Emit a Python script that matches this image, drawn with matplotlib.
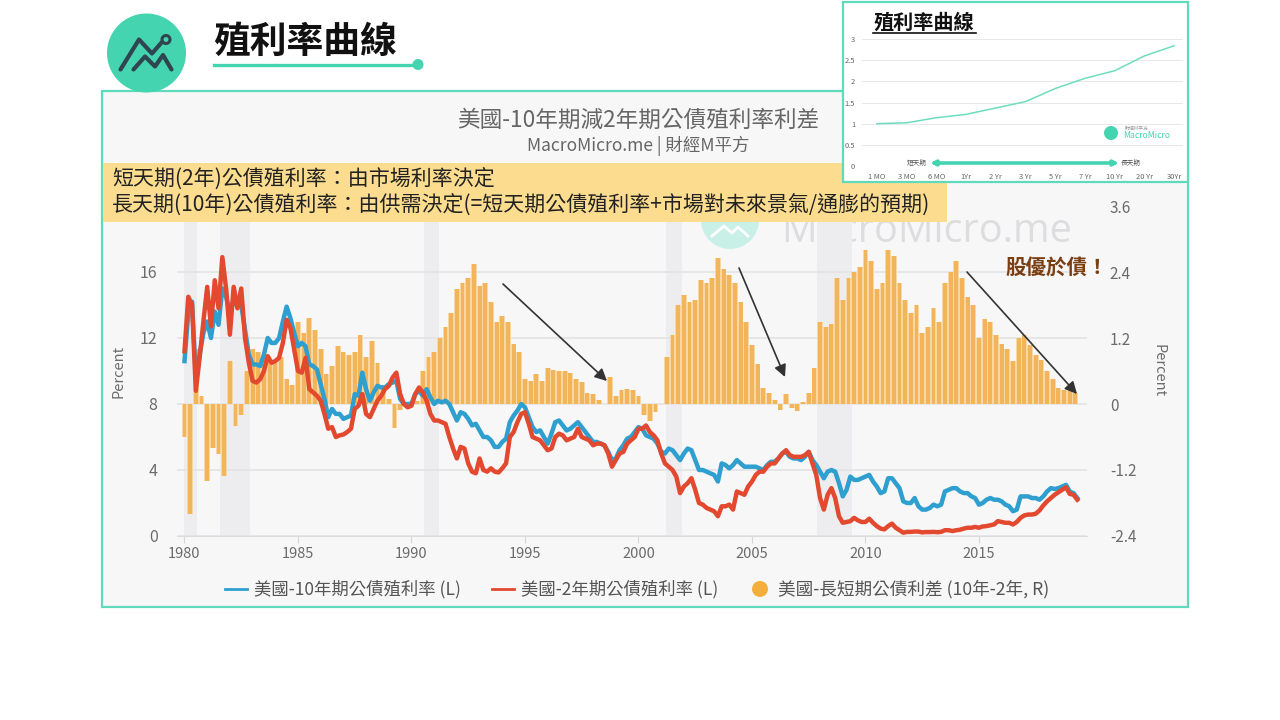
import numpy as np
import matplotlib
matplotlib.use('Agg')
import matplotlib.pyplot as plt
from matplotlib.patches import Rectangle, Circle, FancyArrowPatch

plt.rcParams['font.family'] = ['Noto Sans CJK TC', 'DejaVu Sans']

# two-monthly values from Jan 1980
y10 = [10.6,13.5,14.2,9.5,11.0,12.3,
 13.0,12.0,13.6,12.8,15.0,14.5,
 13.5,14.3,13.9,14.0,12.5,11.0,
 10.4,10.4,10.3,11.0,12.0,11.7,
 11.7,12.0,13.0,13.9,13.2,12.3,
 11.5,11.7,11.5,10.4,10.3,10.1,
 9.2,8.3,7.2,7.7,7.4,7.4,
 7.1,7.2,7.3,8.6,8.5,9.9,
 8.9,8.2,8.7,9.1,9.0,9.0,
 9.2,9.3,9.4,8.3,8.0,8.0,
 8.0,8.6,8.8,8.5,8.9,8.4,
 8.0,8.2,8.1,8.2,8.0,7.5,
 7.0,7.5,7.4,7.1,6.7,6.8,
 6.4,6.0,6.0,5.8,5.4,5.4,
 5.7,5.9,6.9,7.3,7.6,8.0,
 7.8,7.2,6.6,6.3,6.4,6.0,
 5.6,6.2,6.9,7.0,6.7,6.4,
 6.5,6.7,6.9,6.6,6.3,6.0,
 5.7,5.7,5.6,5.5,5.1,4.6,
 4.7,5.2,5.5,5.9,6.0,6.3,
 6.6,6.5,6.1,6.0,5.9,5.6,
 5.1,5.0,5.3,5.2,4.9,4.6,
 5.0,5.3,5.2,4.6,4.0,4.0,
 3.9,3.8,3.7,3.3,4.4,4.3,
 4.1,4.3,4.6,4.4,4.2,4.2,
 4.2,4.2,4.1,4.0,4.3,4.5,
 4.5,4.7,5.0,5.1,4.8,4.7,
 4.7,4.6,4.8,5.1,4.6,4.3,
 3.9,3.5,3.9,4.0,3.9,3.2,
 2.4,2.8,3.6,3.4,3.4,3.5,
 3.6,3.7,3.3,3.0,2.6,2.7,
 3.5,3.5,3.2,2.9,2.1,2.0,
 2.0,2.3,1.8,1.6,1.6,1.7,
 1.9,1.8,1.9,2.7,2.8,2.9,
 2.9,2.7,2.6,2.6,2.4,2.3,
 1.9,2.0,2.2,2.3,2.2,2.2,
 2.1,1.9,1.8,1.5,1.6,2.4,
 2.4,2.4,2.3,2.3,2.2,2.4,
 2.7,2.9,2.85,2.9,3.0,3.1,
 2.7,2.6,2.3]

y2 = [11.2,14.5,14.0,8.8,10.8,13.0,
 15.1,12.7,15.5,13.8,16.9,15.0,
 12.2,15.1,13.8,15.0,12.0,10.5,
 9.4,9.3,9.5,10.0,10.9,10.5,
 10.6,10.8,11.7,13.1,12.6,11.3,
 10.0,9.9,10.8,8.9,8.7,8.5,
 8.2,7.4,6.5,6.6,6.0,6.1,
 6.15,6.3,6.5,7.7,7.9,8.6,
 7.4,7.2,7.7,8.2,8.5,8.9,
 9.1,9.6,9.9,8.6,8.0,7.8,
 7.9,8.6,9.0,8.7,8.2,7.4,
 7.0,7.0,6.9,6.8,6.0,5.3,
 4.7,5.4,5.3,4.4,3.9,3.8,
 4.7,4.0,3.9,4.1,3.9,3.85,
 4.1,4.4,6.0,6.3,6.9,7.4,
 7.5,6.8,6.0,5.9,5.8,5.5,
 5.2,5.3,6.0,6.2,6.1,5.8,
 5.9,6.0,6.5,6.0,5.9,5.8,
 5.5,5.6,5.6,5.5,5.0,4.2,
 4.6,5.0,5.1,5.6,5.8,6.0,
 6.5,6.5,6.7,6.3,6.1,5.8,
 5.0,4.4,4.2,4.0,3.6,2.6,
 3.0,3.2,3.5,2.8,2.0,1.9,
 1.7,1.6,1.5,1.2,1.8,1.8,
 1.9,1.6,2.7,2.6,2.5,3.0,
 3.3,3.7,3.9,3.9,4.2,4.4,
 4.4,4.7,5.0,5.2,4.9,4.8,
 4.8,4.8,4.9,5.1,4.4,3.7,
 2.3,1.6,2.5,2.9,2.3,1.2,
 0.8,0.85,0.9,1.1,0.95,0.85,
 0.85,1.05,0.8,0.6,0.45,0.4,
 0.6,0.75,0.5,0.35,0.2,0.25,
 0.25,0.27,0.27,0.22,0.24,0.24,
 0.25,0.23,0.25,0.35,0.35,0.3,
 0.35,0.38,0.45,0.5,0.5,0.55,
 0.5,0.58,0.6,0.65,0.7,0.9,
 0.85,0.8,0.8,0.7,0.85,1.1,
 1.25,1.3,1.3,1.35,1.55,1.85,
 2.1,2.3,2.5,2.65,2.8,2.95,
 2.55,2.5,2.2]

# quarterly spread from 1980 Q1
spread = [-0.6,-2.0,1.0,0.15, -1.4,-0.8,-0.9,-1.3, 0.78,-0.4,-0.2,0.6,
 1.0,0.95,0.85,0.8, 0.75,0.85,0.45,0.35, 1.5,1.3,1.56,1.35,
 1.0,0.55,0.7,1.05, 0.95,0.9,0.95,1.25, 0.85,1.15,0.75,0.35,
 0.1,-0.44,-0.1,0.0, 0.05,0.05,0.6,0.85, 0.95,1.2,1.4,1.65,
 2.1,2.2,2.3,2.55, 2.15,2.2,1.85,1.5, 1.6,1.5,1.1,0.95,
 0.45,0.42,0.55,0.42, 0.65,0.62,0.6,0.6, 0.57,0.45,0.4,0.2,
 0.18,0.08,0.0,0.5, 0.15,0.26,0.28,0.25, 0.15,-0.2,-0.3,-0.15,
 0.0,0.85,1.25,1.8, 1.98,1.85,1.9,2.25, 2.2,2.3,2.65,2.45,
 2.35,2.2,1.85,1.5, 1.07,0.72,0.3,0.2, 0.08,-0.1,0.18,-0.08,
 -0.12,0.04,0.2,0.65, 1.5,1.4,1.45,2.3, 1.9,2.3,2.4,2.5,
 2.8,2.6,2.1,2.2, 2.8,2.7,2.2,1.9, 1.65,1.8,1.3,1.4,
 1.74,1.5,2.2,2.4, 2.6,2.3,1.95,1.8, 1.2,1.55,1.5,1.25,
 1.1,1.0,0.78,1.2, 1.25,1.08,0.9,0.8, 0.6,0.45,0.3,0.26,
 0.24,0.2]

recessions = [(1980.0,1980.55),(1981.55,1982.9),(1990.55,1991.2),(2001.2,2001.9),(2007.85,2009.4)]
left_ticks = [0,4,8,12,16]
right_ticks = [-2.4,-1.2,0,1.2,2.4,3.6]
year_ticks = [1980,1985,1990,1995,2000,2005,2010,2015]

maturities = ['1 MO','3 MO','6 MO','1Yr','2 Yr','3 Yr','5 Yr','7 Yr','10 Yr','20 Yr','30Yr']
curve = [1.0,1.02,1.14,1.22,1.37,1.52,1.83,2.07,2.25,2.6,2.84]

W,H = 1280.,720.
teal = '#45D4B0'
grey = '#6b6b6b'

def box(x0,y0,x1,y1):
    return [x0/W,1-y1/H,(x1-x0)/W,(y1-y0)/H]

def overlay(z):
    a = fig.add_axes([0,0,1,1],zorder=z)
    a.set_xlim(0,W); a.set_ylim(H,0); a.axis('off')
    a.patch.set_visible(False)
    return a

fig = plt.figure(figsize=(12.8,7.2),dpi=100,facecolor='white')

# background layer
bg = overlay(0)
bg.add_patch(Rectangle((102,91),1086,516,fc='#F7F7F8',ec='#5FDABA',lw=1.6))
bg.add_patch(Circle((730,220),29,fc='#C9F0E6',ec='none'))
bg.plot([712,724,732,738,748],[236,226,233,227,236],color='white',lw=2)
bg.text(927,232,'MacroMicro.me',fontsize=28.5,color='#DDDDDF',ha='center',va='center',family=['Open Sans','DejaVu Sans'])
bg.text(638,120,'美國-10年期減2年期公債殖利率利差',fontsize=16.3,color='#666666',ha='center',va='center')
bg.text(638,146,'MacroMicro.me | 財經M平方',fontsize=12.6,color='#666666',ha='center',va='center')

# main chart
ax2 = fig.add_axes(box(177,206,1087,536),zorder=1)
ax = ax2.twinx()
ax.set_zorder(2)
ax.patch.set_visible(False)
ax2.patch.set_visible(False)

xs = 1980+np.arange(len(spread))/4.
for a,b in recessions:
    ax2.axvspan(a,b,color='#EDEDEF',lw=0,zorder=0)
ax2.bar(xs,spread,width=0.25,color='#F8D7A2',zorder=2)
ax2.bar(xs,spread,width=0.17,color='#F2B55C',zorder=3)
ax2.set_ylim(-2.4,3.6)

t = 1980+np.arange(len(y10))/6.
ax.plot(t,y10,color='#2E9FCF',lw=3.2,solid_joinstyle='round')
ax.plot(t,y2,color='#E2492F',lw=3.2,solid_joinstyle='round')
ax.set_ylim(0,20)
ax.set_xlim(1979.67,2019.76)

# left ticks belong to the rate axis, right ones to the spread
ax2.set_yticks(right_ticks)
ax.set_yticks(left_ticks)
ax.yaxis.tick_left()
ax2.yaxis.tick_right()
for v in left_ticks:
    ax2.axhline((v-8)*0.3,color='#E2E2E4',lw=1.1,zorder=1)
ax.tick_params(axis='y',length=0,labelsize=11.5,labelcolor=grey,pad=14)
ax2.tick_params(axis='y',length=0,labelsize=11,labelcolor=grey,pad=16.5)
ax2.set_yticklabels(['-2.4','-1.2','0','1.2','2.4','3.6'])
ax2.set_xticks(year_ticks)
ax2.tick_params(axis='x',length=5,color='#D5D5D8',labelsize=10.5,labelcolor=grey,pad=3)
for a in (ax,ax2):
    for s in a.spines.values():
        s.set_visible(False)
ax2.spines['bottom'].set_visible(True)
ax2.spines['bottom'].set_color('#DCDCDE')

# foreground layer
fg = overlay(3)
fg.text(118,371,'Percent',rotation=90,fontsize=10.5,color=grey,ha='center',va='center')
fg.text(1158,371,'Percent',rotation=270,fontsize=10.5,color=grey,ha='center',va='center')

# legend
fg.plot([225,247],[589,589],color='#2E9FCF',lw=2)
fg.text(254,589,'美國-10年期公債殖利率 (L)',fontsize=12.5,color='#555555',va='center',weight='medium')
fg.plot([492,514],[589,589],color='#E2492F',lw=2)
fg.text(521,589,'美國-2年期公債殖利率 (L)',fontsize=12.5,color='#555555',va='center',weight='medium')
fg.add_patch(Circle((760,589),8,fc='#F3AE3D',ec='none'))
fg.text(778,589,'美國-長短期公債利差 (10年-2年, R)',fontsize=12.7,color='#555555',va='center',weight='medium')

# yellow note
fg.add_patch(Rectangle((103,163),844,59,fc='#FCDD90',ec='none'))
fg.text(112,179,'短天期(2年)公債殖利率：由市場利率決定',fontsize=15.1,color='#222222',va='center')
fg.text(112,205,'長天期(10年)公債殖利率：由供需決定(=短天期公債殖利率+市場對未來景氣/通膨的預期)',fontsize=15.1,color='#222222',va='center')

# arrows
for p0,p1 in [((503,284),(607,381)),((739,268),(785,377)),((967,272),(1077,394))]:
    fg.add_patch(FancyArrowPatch(p0,p1,arrowstyle='-|>',mutation_scale=18,color='#333333',lw=1.2,shrinkA=0,shrinkB=0))
fg.text(1057,267,'股優於債！',fontsize=14.8,color='#7A3E12',weight='bold',ha='center',va='center')

# heading and logo
fg.add_patch(Circle((146.5,53),39.5,fc=teal,ec='none'))
fg.plot([120.5,139,152,162],[69.5,39.5,53.5,42],color='#2F4550',lw=3,solid_capstyle='round')
fg.plot([133.5,145,155,163,171.5],[69.5,56.5,66.5,55,69.5],color='#2F4550',lw=3,solid_capstyle='round')
fg.add_patch(Circle((166,39.5),4,fc='none',ec='#2F4550',lw=2.2))
fg.text(305,42,'殖利率曲線',fontsize=26.5,weight='bold',color='#111111',ha='center',va='center')
fg.plot([214,416],[64.5,64.5],color=teal,lw=2.4)
fg.add_patch(Circle((418,64.5),5.5,fc=teal,ec='none'))

# small yield curve
fg.add_patch(Rectangle((843,2),345,180,fc='white',ec='#5FDABA',lw=1.6))
fg.text(924,22,'殖利率曲線',fontsize=14.5,weight='bold',color='#111111',ha='center',va='center')
fg.plot([873,976],[32.5,32.5],color='#111111',lw=1.2)
ins = fig.add_axes(box(862,39,1183,166),zorder=4)
ins.patch.set_visible(False)
ins.plot(range(len(curve)),curve,color='#6EDCC0',lw=1.1)
ins.set_ylim(0,3)
ins.set_xlim(-0.5,10.3)
ins.set_yticks([0,0.5,1,1.5,2,2.5,3])
ins.set_yticklabels(['0','0.5','1','1.5','2','2.5','3'])
ins.set_xticks(range(len(curve)))
ins.set_xticklabels(maturities)
ins.tick_params(length=0,labelsize=5.4,labelcolor='#666666',pad=5)
ins.grid(axis='y',color='#E8E8E8',lw=0.7)
ins.set_axisbelow(True)
for s in ins.spines.values():
    s.set_visible(False)

top = overlay(5)
top.add_patch(FancyArrowPatch((930,163),(1119,163),arrowstyle='<|-|>',mutation_scale=7,color=teal,lw=2.6,shrinkA=0,shrinkB=0))
top.text(917,163,'短天期',fontsize=4.8,color='#555555',ha='center',va='center')
top.text(1131,163,'長天期',fontsize=4.8,color='#555555',ha='center',va='center')
top.add_patch(Circle((1111,133),7,fc=teal,ec='none'))
top.text(1147,135.5,'MacroMicro',fontsize=6.2,color=teal,ha='center',va='center')
top.text(1137,128,'財經M平方',fontsize=3.6,color='#999999',ha='center',va='center')

fig.savefig('out.png',dpi=100)
